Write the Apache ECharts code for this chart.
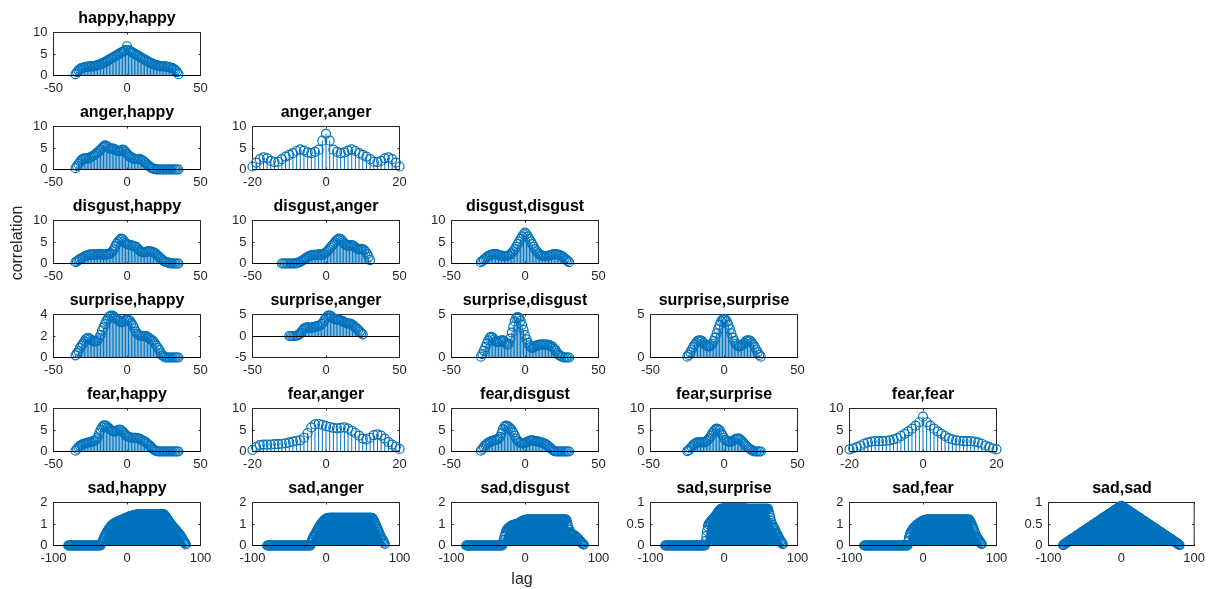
<!DOCTYPE html>
<html>
<head>
<meta charset="utf-8">
<script src="https://cdn.jsdelivr.net/npm/echarts@6/dist/echarts.min.js"></script>
<style>
  html, body { margin: 0; padding: 0; background: #fff; }
  #chart { width: 1208px; height: 589px; }
</style>
</head>
<body>
<div id="chart"></div>
<script>
// Cross-correlation of emotion signals, one stem panel per pair (lower triangle).

const panelTitles = [
  'happy,happy',
  'anger,happy', 'anger,anger',
  'disgust,happy', 'disgust,anger', 'disgust,disgust',
  'surprise,happy', 'surprise,anger', 'surprise,disgust', 'surprise,surprise',
  'fear,happy', 'fear,anger', 'fear,disgust', 'fear,surprise', 'fear,fear',
  'sad,happy', 'sad,anger', 'sad,disgust', 'sad,surprise', 'sad,fear', 'sad,sad'
];

// correlation values, lags -N..N (N = (length-1)/2)
const happyHappy = [
  0.3,0.8,1.2,1.5,1.7, 1.8,1.9,2.0,2.0,2.1, 2.1,2.1,2.1,2.2,2.3, 2.4,2.5,2.6,2.8,2.9,
  3.1,3.3,3.5,3.7,3.9, 4.1,4.3,4.5,4.7,4.9, 5.1,5.3,5.5,5.7,5.9,
  6.8,
  5.9,5.7,5.5,5.3,5.1, 4.9,4.7,4.5,4.3,4.1, 3.9,3.7,3.5,3.3,3.1, 2.9,2.8,2.6,2.5,2.4,
  2.3,2.2,2.1,2.1,2.1, 2.1,2.0,2.0,1.9,1.8, 1.7,1.5,1.2,0.8,0.3
];
const angerHappy = [
  0.3,0.8,1.3,1.8,2.2, 2.5,2.6,2.6,2.5,2.6, 2.8,3.0,3.2,3.4,3.7, 4.0,4.3,4.6,5.0,5.3,
  5.6,5.5,5.2,4.9,4.8, 4.9,4.8,4.6,4.4,4.3, 4.2,4.4,4.6,4.5,4.1,
  3.7,
  3.3,3.0,2.8,2.6,2.5, 2.4,2.4,2.5,2.4,2.2, 2.0,1.7,1.4,1.1,0.8, 0.5,0.3,0.2,0.1,0.05,
  0,0,0,0,0, 0,0,0,0,0, 0,0,0,0,0
];
const angerAnger = [
  0.7,1.6,2.4,2.8,2.6, 2.0,1.7,1.8,2.4,3.0, 3.4,3.8,4.3,4.7,4.4, 4.0,3.8,4.1,4.6,6.7,
  8.3,
  6.7,4.6,4.1,3.8,4.0, 4.4,4.7,4.3,3.8,3.4, 3.0,2.4,1.8,1.7,2.0, 2.6,2.8,2.4,1.6,0.7
];
const disgustHappy = [
  0.3,0.5,0.8,1.0,1.2, 1.4,1.6,1.8,1.9,2.0, 2.1,2.0,2.1,2.1,2.0, 2.1,2.2,2.1,2.1,2.0,
  2.1,2.1,2.2,2.2,2.4, 2.8,3.3,4.0,4.6,5.1, 5.5,5.8,5.6,5.2,4.8,
  4.5,
  4.4,4.3,4.2,4.1,4.0, 3.9,3.6,3.2,2.9,2.7, 2.6,2.6,2.7,2.8,2.8, 2.8,2.7,2.6,2.4,2.1,
  1.8,1.5,1.2,0.9,0.6, 0.4,0.3,0.2,0.1,0.05, 0,0,0,0,0
];
const disgustAnger = [
  0,0,0,0,0, 0,0,0,0,0,
  0.1,0.2,0.3,0.5,0.7, 0.9,1.2,1.4,1.6,1.8, 1.9,2.0,2.0,2.0,2.0, 2.1,2.1,2.0,2.1,2.3,
  2.6,
  2.9,3.3,3.7,4.1,4.5, 4.9,5.3,5.6,5.8,5.7, 5.3,4.9,4.5,4.2,4.1, 4.2,4.3,4.2,4.0,3.7,
  3.5,3.3,3.3,3.4,3.3, 3.1,2.7,2.2,1.5,0.8
];
const disgustDisgust = [
  0.3,0.6,0.9,1.2,1.5, 1.7,1.9,2.0,2.1,2.2, 2.2,2.1,2.0,1.9,1.8, 1.8,1.7,1.7,1.8,1.9,
  2.1,2.4,2.8,3.3,3.9, 4.5,5.1,5.7,6.3,6.8,
  7.2,
  6.8,6.3,5.7,5.1,4.5, 3.9,3.3,2.8,2.4,2.1, 1.9,1.8,1.7,1.7,1.8, 1.8,1.9,2.0,2.1,2.2,
  2.2,2.1,2.0,1.9,1.7, 1.5,1.2,0.9,0.6,0.3
];
const surpriseHappy = [
  0.2,0.4,0.6,0.9,1.1, 1.3,1.5,1.7,1.8,1.8, 1.7,1.6,1.5,1.5,1.5, 1.6,1.8,2.1,2.5,2.8,
  3.1,3.4,3.6,3.8,3.9, 3.9,3.8,3.7,3.6,3.5, 3.4,3.3,3.3,3.4,3.5,
  3.5,
  3.5,3.4,3.2,3.0,2.7, 2.4,2.2,2.1,2.0,2.0, 2.0,2.0,2.0,1.9,1.8, 1.7,1.6,1.5,1.3,1.1,
  0.9,0.7,0.4,0.2,0.1, 0,0,0,0,0, 0,0,0,0,0
];
const surpriseAnger = [
  0,0,0,0,0,
  0.1,0.2,0.4,0.8,1.3, 1.7,1.9,2.0,2.0,1.9, 1.9,2.0,2.1,2.2,2.3, 2.3,2.5,2.8,3.2,3.7,
  4.2,
  4.6,4.8,4.7,4.4,4.1, 3.9,3.8,3.8,3.7,3.6, 3.5,3.3,3.1,3.0,2.9, 2.9,2.8,2.6,2.3,2.0,
  1.7,1.4,1.0,0.7,0.4
];
const surpriseDisgust = [
  0.1,0.4,0.8,1.2,1.6, 2.0,2.3,2.4,2.3,2.1, 1.9,1.8,1.8,1.9,2.0, 2.0,1.9,1.7,1.5,1.6,
  2.2,2.9,3.6,4.2,4.6, 4.7,4.6,4.3,3.8,3.2,
  2.6,
  2.1,1.7,1.4,1.2,1.1, 1.2,1.3,1.4,1.4,1.5, 1.5,1.5,1.5,1.5,1.5, 1.4,1.4,1.3,1.2,1.0,
  0.8,0.5,0.3,0.2,0.1, 0,0,0,0,0
];
const surpriseSurprise = [
  0.1,0.3,0.6,0.9,1.2, 1.5,1.7,1.9,2.0,2.0, 1.9,1.7,1.5,1.4,1.3, 1.3,1.4,1.6,1.9,2.3,
  2.8,3.3,3.8,4.2,4.4,
  4.5,
  4.4,4.2,3.8,3.3,2.8, 2.3,1.9,1.6,1.4,1.3, 1.3,1.4,1.5,1.7,1.9, 2.0,2.0,1.9,1.7,1.5,
  1.2,0.9,0.6,0.3,0.1
];
const fearHappy = [
  0.2,0.6,1.0,1.3,1.5, 1.7,1.8,1.9,2.0,2.1, 2.2,2.3,2.4,2.5,2.8, 3.3,4.2,5.0,5.6,6.0,
  6.1,5.9,5.6,5.3,5.0, 4.8,4.7,4.7,4.8,5.0, 5.1,5.0,4.7,4.3,3.9,
  3.6,
  3.4,3.3,3.2,3.2,3.2, 3.2,3.1,3.0,2.9,2.7, 2.5,2.3,2.1,1.8,1.5, 1.2,0.8,0.5,0.3,0.1,
  0,0,0,0,0, 0,0,0,0,0, 0,0,0,0,0
];
const fearAnger = [
  0.4,1.0,1.5,1.6,1.6, 1.6,1.7,1.7,1.8,1.9, 2.1,2.3,2.5,2.6,3.2, 4.3,5.6,6.3,6.4,6.2,
  5.9,
  5.7,5.5,5.4,5.5,5.6, 5.3,4.8,4.3,3.7,3.0, 2.8,3.2,3.8,4.0,3.7, 3.0,2.2,1.6,1.1,0.6
];
const fearDisgust = [
  0.2,0.6,1.1,1.5,1.8, 2.0,2.2,2.4,2.5,2.6, 2.7,2.8,3.0,3.4,4.2, 5.2,5.8,6.0,5.9,5.7,
  5.4,5.0,4.4,3.7,3.0, 2.5,2.2,2.0,1.9,1.9,
  2.0,
  2.1,2.3,2.5,2.6,2.6, 2.5,2.4,2.4,2.3,2.2, 2.1,2.0,1.9,1.7,1.5, 1.2,0.9,0.6,0.3,0.1,
  0,0,0,0,0, 0,0,0,0,0
];
const fearSurprise = [
  0.1,0.3,0.7,1.1,1.5, 1.8,2.0,2.1,2.1,2.1, 2.1,2.1,2.2,2.4,2.7, 3.1,3.6,4.2,4.7,5.1,
  5.3,5.2,4.9,4.4,3.8,
  3.2,
  2.7,2.4,2.3,2.3,2.3, 2.5,2.7,2.9,3.0,3.0, 2.8,2.5,2.1,1.7,1.3, 1.0,0.7,0.5,0.3,0.1,
  0,0,0,0,0
];
const fearFear = [
  0.5,0.7,1.0,1.4,1.8, 2.1,2.3,2.4,2.4,2.4, 2.5,2.6,2.8,3.1,3.6, 4.1,4.7,5.3,6.0,6.8,
  8.1,
  6.8,6.0,5.3,4.7,4.1, 3.6,3.1,2.8,2.6,2.5, 2.4,2.4,2.4,2.3,2.1, 1.8,1.4,1.0,0.7,0.5
];
const sadHappy = [
  0,0,0,0,0,0,0,0,0,0, 0,0,0,0,0,0,0,0,0,0, 0,0,0,0,0,0,0,0,0,0, 0,0,0,0,0,0,0,0,0,0,
  0,0,0,0,0,
  0.10,0.15,0.22,0.30,0.38, 0.45,0.52,0.58,0.64,0.70, 0.75,0.80,0.85,0.90,0.93,
  0.96,0.99,1.01,1.03,1.05, 1.07,1.09,1.10,1.12,1.13, 1.15,1.16,1.18,1.19,1.21,
  1.22,1.24,1.25,1.27,1.28,
  1.30,
  1.31,1.32,1.34,1.35,1.36, 1.37,1.38,1.39,1.40,1.41, 1.42,1.43,1.44,1.44,1.45,
  1.45,1.45,1.45,1.45,1.45,1.45,1.45,1.45,1.45,1.45,
  1.45,1.45,1.45,1.45,1.45,1.45,1.45,1.45,1.45,1.45,
  1.45,1.45,1.45,1.45,1.45,1.45,1.45,1.45,1.45,1.45,
  1.45,1.45,1.45,1.45,1.45,
  1.42,1.38,1.33,1.28,1.23, 1.18,1.13,1.08,1.03,0.98, 0.94,0.90,0.86,0.82,0.78,
  0.74,0.70,0.66,0.62,0.58, 0.54,0.50,0.45,0.40,0.34, 0.28,0.22,0.16,0.10,0.05
];
const sadAnger = [
  0,0,0,0,0,0,0,0,0,0, 0,0,0,0,0,0,0,0,0,0, 0,0,0,0,0,0,0,0,0,0,
  0,0,0,0,0,0,0,0,0,0, 0,0,0,0,0,0,0,0,0,0, 0,0,0,0,0,0,0,0,0,0,
  0.15,0.25,0.33,0.40,0.46, 0.52,0.58,0.64,0.70,0.76, 0.82,0.88,0.94,0.99,1.04,
  1.08,1.12,1.16,1.19,1.22,
  1.24,
  1.26,1.27,1.28,
  1.29,1.29,1.29,1.29,1.29,1.29,1.29,1.29,1.29,1.29,
  1.29,1.29,1.29,1.29,1.29,1.29,1.29,1.29,1.29,1.29,
  1.29,1.29,1.29,1.29,1.29,1.29,1.29,1.29,1.29,1.29,
  1.29,1.29,1.29,1.29,1.29,1.29,1.29,1.29,1.29,1.29,
  1.29,1.29,1.29,1.29,1.29,1.29,1.29,1.29,1.29,1.29,
  1.29,1.29,1.29,1.29,1.29,1.29,1.29,1.29,1.29,
  1.27,1.23,1.17,1.10,1.02, 0.94,0.86,0.78,0.70,0.62, 0.54,0.46,0.38,0.32,0.26,
  0.20,0.14,0.08
];
const sadDisgust = [
  0,0,0,0,0,0,0,0,0,0, 0,0,0,0,0,0,0,0,0,0, 0,0,0,0,0,0,0,0,0,0,
  0,0,0,0,0,0,0,0,0,0, 0,0,0,0,0,0,0,0,0,0,
  0.10,0.25,0.40,0.52,0.62, 0.70,0.76,0.80,0.83,0.86, 0.88,0.90,0.92,0.94,0.95,
  0.96,0.97,0.98,0.99,1.00, 1.01,1.03,1.05,1.07,1.09, 1.11,1.13,1.15,1.16,1.17,
  1.18,
  1.19,
  1.20,1.20,1.20,1.20,1.20,1.20,1.20,1.20,1.20,1.20,
  1.20,1.20,1.20,1.20,1.20,1.20,1.20,1.20,1.20,1.20,
  1.20,1.20,1.20,1.20,1.20,1.20,1.20,1.20,1.20,1.20,
  1.20,1.20,1.20,1.20,1.20,1.20,1.20,1.20,1.20,1.20,
  1.20,1.20,1.20,1.20,1.20,1.20,1.20,1.20,1.20,1.20,
  1.20,1.20,1.20,1.20,1.20,
  1.12,1.00,0.86,0.74,0.64, 0.58,0.55,0.53,0.51,0.49, 0.47,0.45,0.42,0.39,0.36,
  0.33,0.29,0.25,0.21,0.17, 0.13,0.10,0.07,0.04
];
const sadSurprise = [
  0,0,0,0,0,0,0,0,0,0, 0,0,0,0,0,0,0,0,0,0, 0,0,0,0,0,0,0,0,0,0,
  0,0,0,0,0,0,0,0,0,0, 0,0,0,0,0,0,0,0,0,0, 0,0,0,0,0,
  0.10,0.22,0.34,0.44,0.49, 0.52,0.54,0.56,0.58,0.60, 0.62,0.64,0.66,0.68,0.70,
  0.72,0.75,0.78,0.80,0.82, 0.84,0.85,0.85,0.86,0.86,
  0.86,
  0.86,0.86,0.86,0.86,0.86,0.86,0.86,0.86,0.86,0.86,
  0.86,0.86,0.86,0.86,0.86,0.86,0.86,0.86,0.86,0.86,
  0.86,0.86,0.86,0.86,0.86,0.86,0.86,0.86,0.86,0.86,
  0.85,0.85,0.85,0.85,0.85,0.85,0.85,0.85,0.85,0.85,
  0.85,0.85,0.85,0.85,0.85,0.85,0.85,0.85,0.85,0.85,
  0.85,0.85,0.85,0.85,0.85,0.85,0.85,0.85,0.85,0.85,
  0.78,0.71,0.64,0.57,0.52, 0.48,0.44,0.41,0.38,0.34, 0.30,0.27,0.24,0.20,0.17,
  0.14,0.11,0.08,0.05,0.03
];
const sadFear = [
  0,0,0,0,0,0,0,0,0,0, 0,0,0,0,0,0,0,0,0,0, 0,0,0,0,0,0,0,0,0,0,
  0,0,0,0,0,0,0,0,0,0, 0,0,0,0,0,0,0,0,0,0, 0,0,0,0,0,0,0,0,0,0,
  0.20,0.38,0.50,0.58,0.65, 0.71,0.76,0.80,0.84,0.87, 0.91,0.94,0.97,1.00,1.02,
  1.05,1.07,1.09,1.11,1.13,
  1.14,
  1.16,1.17,1.18,1.19,
  1.20,1.20,1.20,1.20,1.20,1.20,1.20,1.20,1.20,1.20,
  1.20,1.20,1.20,1.20,1.20,1.20,1.20,1.20,1.20,1.20,
  1.20,1.20,1.20,1.20,1.20,1.20,1.20,1.20,1.20,1.20,
  1.20,1.20,1.20,1.20,1.20,1.20,1.20,1.20,1.20,1.20,
  1.20,1.20,1.20,1.20,1.20,1.20,1.20,1.20,1.20,1.20,
  1.20,1.20,1.20,1.20,1.20,1.20,1.20,1.20,1.20,
  1.15,1.08,1.00,0.92,0.84, 0.76,0.66,0.56,0.47,0.40, 0.35,0.30,0.25,0.20,0.15,
  0.10,0.06
];
const sadSad = [
  0.01,0.02,0.03,0.05,0.06,0.07,0.08,0.09,0.10,0.11,
  0.13,0.14,0.15,0.16,0.17,0.18,0.19,0.20,0.22,0.23,
  0.24,0.25,0.26,0.27,0.28,0.30,0.31,0.32,0.33,0.34,
  0.35,0.36,0.38,0.39,0.40,0.41,0.42,0.43,0.44,0.45,
  0.47,0.48,0.49,0.50,0.51,0.52,0.53,0.55,0.56,0.57,
  0.58,0.59,0.60,0.61,0.63,0.64,0.65,0.66,0.67,0.68,
  0.69,0.70,0.72,0.73,0.74,0.75,0.76,0.77,0.78,0.80,
  0.81,0.82,0.83,0.84,0.85,0.86,0.88,0.89,0.90,0.91,
  0.92,
  0.91,0.90,0.89,0.88,0.86,0.85,0.84,0.83,0.82,0.81,
  0.80,0.78,0.77,0.76,0.75,0.74,0.73,0.72,0.70,0.69,
  0.68,0.67,0.66,0.65,0.64,0.63,0.61,0.60,0.59,0.58,
  0.57,0.56,0.55,0.53,0.52,0.51,0.50,0.49,0.48,0.47,
  0.45,0.44,0.43,0.42,0.41,0.40,0.39,0.38,0.36,0.35,
  0.34,0.33,0.32,0.31,0.30,0.28,0.27,0.26,0.25,0.24,
  0.23,0.22,0.20,0.19,0.18,0.17,0.16,0.15,0.14,0.13,
  0.11,0.10,0.09,0.08,0.07,0.06,0.05,0.03,0.02,0.01
];

const panelValues = [
  happyHappy,
  angerHappy, angerAnger,
  disgustHappy, disgustAnger, disgustDisgust,
  surpriseHappy, surpriseAnger, surpriseDisgust, surpriseSurprise,
  fearHappy, fearAnger, fearDisgust, fearSurprise, fearFear,
  sadHappy, sadAnger, sadDisgust, sadSurprise, sadFear, sadSad
];

// tick labels of each panel
const xTicks = [
  [-50, 0, 50],
  [-50, 0, 50], [-20, 0, 20],
  [-50, 0, 50], [-50, 0, 50], [-50, 0, 50],
  [-50, 0, 50], [-50, 0, 50], [-50, 0, 50], [-50, 0, 50],
  [-50, 0, 50], [-20, 0, 20], [-50, 0, 50], [-50, 0, 50], [-20, 0, 20],
  [-100, 0, 100], [-100, 0, 100], [-100, 0, 100], [-100, 0, 100], [-100, 0, 100], [-100, 0, 100]
];
const yTicks = [
  [0, 5, 10],
  [0, 5, 10], [0, 5, 10],
  [0, 5, 10], [0, 5, 10], [0, 5, 10],
  [0, 2, 4], [-5, 0, 5], [0, 5], [0, 5],
  [0, 5, 10], [0, 5, 10], [0, 5, 10], [0, 5, 10], [0, 5, 10],
  [0, 1, 2], [0, 1, 2], [0, 1, 2], [0, 0.5, 1], [0, 1, 2], [0, 0.5, 1]
];

const axisLabelText = { y: 'correlation', x: 'lag' };

// ---------------------------------------------------------------------------
const FONT = '"Liberation Sans", Arial, Helvetica, sans-serif';
const BLUE = '#0072BD';
const INK = '#262626';

function lagRange(n) {
  const out = [];
  for (let k = -n; k <= n; k++) out.push(k);
  return out;
}

function makeStemRenderer(width) {
  return function (params, api) {
    const x = api.value(0);
    const y = api.value(1);
    const p0 = api.coord([x, 0]);
    const p1 = api.coord([x, y]);
    return {
      type: 'line',
      shape: { x1: p0[0], y1: p0[1], x2: p1[0], y2: p1[1] },
      style: { stroke: BLUE, lineWidth: width },
      silent: true
    };
  };
}

const grids = [], xAxes = [], yAxes = [], series = [], graphics = [];

let idx = 0;
for (let r = 0; r < 6; r++) {
  for (let c = 0; c <= r; c++) {
    const i = idx++;
    const left = 53.5 + 199 * c;
    const top = 32.5 + 94 * r;
    const w = 147, h = 43;
    grids.push({ left, top, width: w, height: h, show: true, borderColor: INK, borderWidth: 1, backgroundColor: '#fff' });

    const xt = xTicks[i], yt = yTicks[i];
    const xr = { min: xt[0], max: xt[xt.length - 1], interval: xt[1] - xt[0] };
    const yr = { min: yt[0], max: yt[yt.length - 1], interval: yt[1] - yt[0] };

    const tick = { show: true, inside: true, length: 2, lineStyle: { color: INK, width: 1 } };
    const hiddenLine = { show: false, onZero: false };
    const labelStyle = { show: true, fontSize: 13, color: INK, fontFamily: FONT, showMinLabel: true, showMaxLabel: true };

    xAxes.push(Object.assign({
      type: 'value', gridIndex: i, position: 'bottom',
      axisLine: hiddenLine, axisTick: tick, splitLine: { show: false },
      axisLabel: Object.assign({ margin: 6 }, labelStyle)
    }, xr));
    xAxes.push(Object.assign({
      type: 'value', gridIndex: i, position: 'top',
      axisLine: hiddenLine, axisTick: tick, splitLine: { show: false }, axisLabel: { show: false }
    }, xr));
    yAxes.push(Object.assign({
      type: 'value', gridIndex: i, position: 'left',
      axisLine: hiddenLine, axisTick: tick, splitLine: { show: false },
      axisLabel: Object.assign({ margin: 6 }, labelStyle)
    }, yr));
    yAxes.push(Object.assign({
      type: 'value', gridIndex: i, position: 'right',
      axisLine: hiddenLine, axisTick: tick, splitLine: { show: false }, axisLabel: { show: false }
    }, yr));

    const vals = panelValues[i];
    const lags = lagRange((vals.length - 1) / 2);
    const data = lags.map((l, k) => [l, vals[k]]);
    // dense panels (many lags per pixel) need slightly wider stems to read solid
    const stemWidth = vals.length > 100 ? 1.6 : 1;

    series.push({
      type: 'custom', xAxisIndex: 2 * i, yAxisIndex: 2 * i,
      data, renderItem: makeStemRenderer(stemWidth), silent: true, clip: false, z: 2
    });
    series.push({
      type: 'scatter', xAxisIndex: 2 * i, yAxisIndex: 2 * i,
      data, symbol: 'circle', symbolSize: 9, silent: true, clip: false, z: 3,
      itemStyle: { color: 'rgba(0,0,0,0)', borderColor: BLUE, borderWidth: 1.2, opacity: 1 },
      markLine: {
        silent: true, symbol: ['none', 'none'], label: { show: false },
        lineStyle: { color: '#000', width: 1, type: 'solid' },
        data: [{ yAxis: 0 }], animation: false
      }
    });

    graphics.push({
      type: 'text', x: left + w / 2, y: top - 6, silent: true,
      style: { text: panelTitles[i], font: 'bold 16px ' + FONT, fill: '#000', align: 'center', verticalAlign: 'bottom' }
    });
  }
}

graphics.push({
  type: 'text', x: 18, y: 243, rotation: Math.PI / 2, silent: true,
  style: { text: axisLabelText.y, font: '16px ' + FONT, fill: INK, align: 'center', verticalAlign: 'middle' }
});
graphics.push({
  type: 'text', x: 522, y: 580, silent: true,
  style: { text: axisLabelText.x, font: '16px ' + FONT, fill: INK, align: 'center', verticalAlign: 'middle' }
});

const chart = echarts.init(document.getElementById('chart'), null, { renderer: 'canvas' });
chart.setOption({
  animation: false,
  backgroundColor: '#fff',
  grid: grids,
  xAxis: xAxes,
  yAxis: yAxes,
  series,
  graphic: graphics
});
</script>
</body>
</html>
